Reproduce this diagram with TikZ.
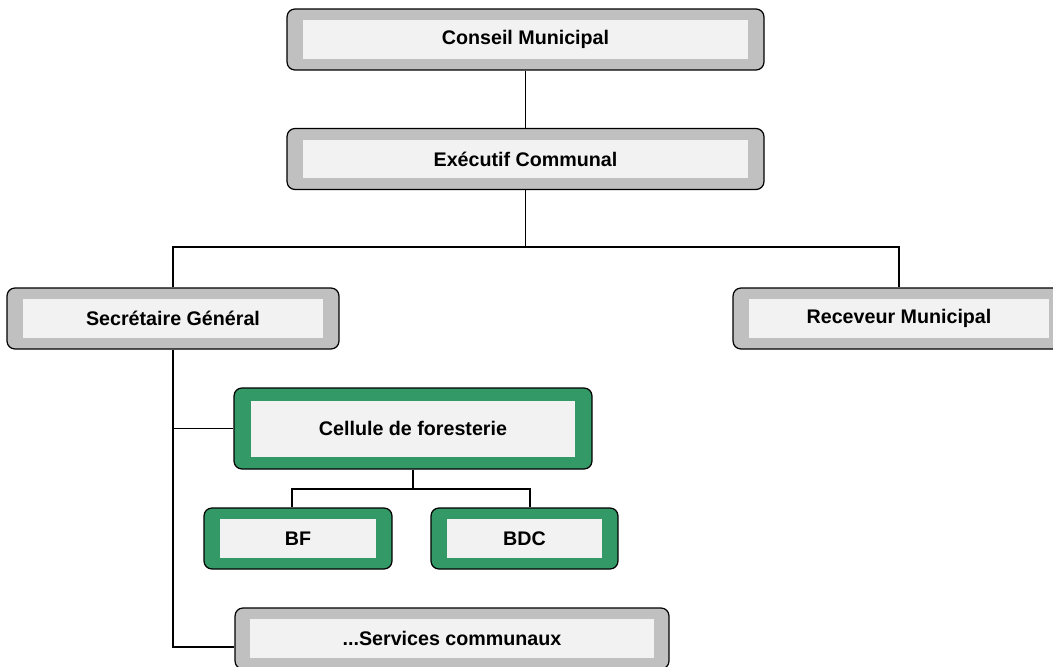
\documentclass[tikz,border=0pt]{standalone}
\usepackage{fontspec}
\setmainfont{Liberation Sans}
\usepackage{xcolor}
\usepackage{tikz}
\definecolor{cgrey}{HTML}{C0C0C0}
\definecolor{cpale}{HTML}{F2F2F2}
\definecolor{cgreen}{HTML}{339966}
\tikzset{
  outbox/.style={draw=black,line width=0.7pt,rounded corners=4.5pt,
                 minimum height=1.22cm,inner sep=0pt},
  greybox/.style={outbox,fill=cgrey},
  greenbox/.style={outbox,fill=cgreen},
  inbox/.style={fill=cpale,inner sep=0pt,minimum height=0.78cm,
                font=\fontsize{11.2}{13}\selectfont\bfseries},
  link/.style={draw=black,line width=0.6pt},
}

\begin{document}
\begin{tikzpicture}[x=0.02cm,y=-0.02cm]
\useasboundingbox (0,0) rectangle (1053,666);

% ================= TOP: council and executive =================
\node[greybox,minimum width=9.54cm] (cm) at (525.5,39.5) {};
\node[inbox,minimum width=8.92cm] (cmt) at (cm) {Conseil Municipal};
\node[greybox,minimum width=9.54cm] (ec) at (525.5,159) {};
\node[inbox,minimum width=8.92cm] (ect) at (ec) {Exécutif Communal};

% ================= MIDDLE: secretary and receiver =================
\node[greybox,minimum width=6.64cm] (sg) at (173,318.5) {};
\node[inbox,minimum width=6.02cm] (sgt) at (sg) {Secrétaire Général};
\node[greybox,minimum width=6.64cm] (rm) at (899,318.5) {};
\node[inbox,minimum width=6.02cm] (rmt) at (rm) {Receveur Municipal};

% ================= BOTTOM: forestry cell and services =================
\node[greenbox,minimum width=7.16cm,minimum height=1.62cm] (cf) at (413,428.5) {};
\node[inbox,minimum width=6.48cm,minimum height=1.12cm] (cft) at (cf) {Cellule de foresterie};
\node[greenbox,minimum width=3.76cm] (bf) at (298,538.5) {};
\node[inbox,minimum width=3.12cm] (bft) at (bf) {BF};
\node[greenbox,minimum width=3.74cm] (bdc) at (524.5,538.5) {};
\node[inbox,minimum width=3.12cm] (bdct) at (bdc) {BDC};
\node[greybox,minimum width=8.68cm] (sc) at (452,638.5) {};
\node[inbox,minimum width=8.1cm] (sct) at (sc) {...Services communaux};

% connectors
\coordinate (j1) at (525.5,247);
\coordinate (j2) at (413,489);
\draw[link] (cm.south) -- (ec.north);
\draw[link] (ec.south) -- (j1);
\draw[link] (sg.north) |- (j1) -| (rm.north);
\draw[link] (sg.south) |- ([yshift=-0.17cm]sc.west);
\draw[link] (cf.west) -- (cf.west -| sg.south);
\draw[link] (cf.south) -- (j2);
\draw[link] ([xshift=-0.12cm]bf.north) |- (j2) -| ([xshift=0.11cm]bdc.north);

\end{tikzpicture}
\end{document}
